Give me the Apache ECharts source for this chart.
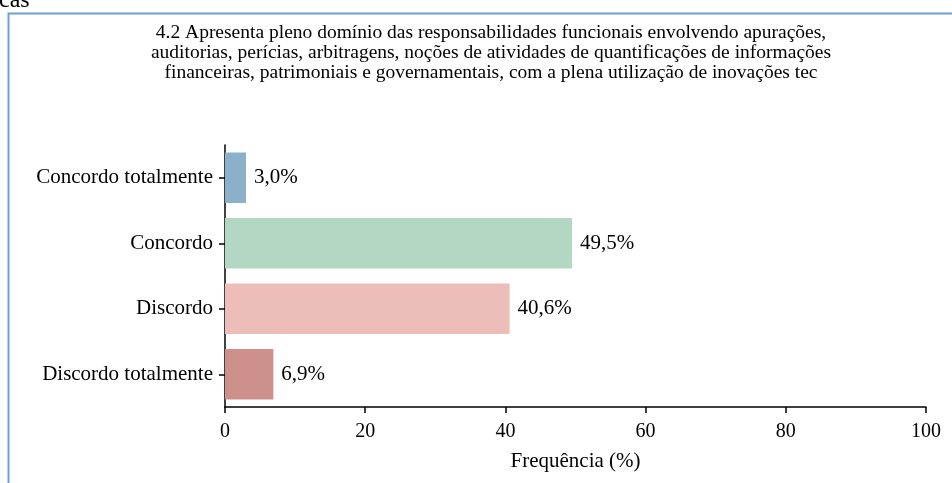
<!DOCTYPE html>
<html>
<head>
<meta charset="utf-8">
<script src="https://cdn.jsdelivr.net/npm/echarts@6/dist/echarts.min.js"></script>
<style>
    html, body { margin: 0; padding: 0; background: #fff; }
    #chart { width: 952px; height: 483px; }
</style>
</head>
<body>
<div id="chart"></div>
<script>
var categories = ['Concordo totalmente', 'Concordo', 'Discordo', 'Discordo totalmente'];
var values = [3.0, 49.5, 40.6, 6.9];
var barColors = ['#8bb0ca', '#b2d8c3', '#edbdba', '#ce908b'];
var xTicks = [0, 20, 40, 60, 80, 100];

var chart = echarts.init(document.getElementById('chart'));

var titleText = '4.2 Apresenta pleno domínio das responsabilidades funcionais envolvendo apurações,\n' +
    'auditorias, perícias, arbitragens, noções de atividades de quantificações de informações\n' +
    'financeiras, patrimoniais e governamentais, com a plena utilização de inovações tec';

var font = '"Liberation Serif", "Times New Roman", serif';

var option = {
    animation: false,
    textStyle: { fontFamily: font },
    title: {
        text: titleText,
        left: 486,
        top: 18,
        textAlign: 'center',
        textStyle: {
            fontFamily: font,
            fontWeight: 'normal',
            fontSize: 19.5,
            lineHeight: 20,
            color: '#000'
        }
    },
    graphic: [
        {
            type: 'rect',
            shape: { x: 8.5, y: 13.5, width: 1000, height: 1000 },
            style: { fill: 'none', stroke: '#6a9fd8', lineWidth: 2 }
        },
        {
            type: 'text',
            style: {
                text: 'cas',
                x: -1,
                y: 13,
                verticalAlign: 'bottom',
                font: '24px ' + font,
                fill: '#000'
            }
        }
    ],
    grid: { left: 225, right: 26, top: 145, bottom: 76 },
    xAxis: {
        type: 'value',
        min: 0,
        max: 100,
        interval: 20,
        name: 'Frequência (%)',
        nameLocation: 'middle',
        nameGap: 44,
        nameTextStyle: { fontFamily: font, fontSize: 21, color: '#000' },
        axisLine: { show: true, lineStyle: { color: '#000', width: 1.5 } },
        axisTick: { show: true, length: 6, lineStyle: { color: '#000', width: 1.5 } },
        axisLabel: {
            fontFamily: font, fontSize: 20, color: '#000', margin: 15,
            formatter: function (v) { return xTicks.indexOf(v) >= 0 ? String(v) : ''; }
        },
        splitLine: { show: false }
    },
    yAxis: {
        type: 'category',
        inverse: true,
        data: categories,
        axisLine: { show: true, lineStyle: { color: '#000', width: 1.5 } },
        axisTick: { show: true, alignWithLabel: true, length: 6, lineStyle: { color: '#000', width: 1.5 } },
        axisLabel: { fontFamily: font, fontSize: 21, color: '#000', margin: 12 }
    },
    series: [
        {
            type: 'bar',
            barCategoryGap: '23%',
            data: values.map(function (v, i) {
                return { value: v, itemStyle: { color: barColors[i] } };
            }),
            label: {
                show: true,
                position: 'right',
                distance: 8,
                fontFamily: font,
                fontSize: 21,
                color: '#000',
                formatter: function (p) { return p.value.toFixed(1).replace('.', ',') + '%'; }
            }
        }
    ]
};

chart.setOption(option);
</script>
</body>
</html>
